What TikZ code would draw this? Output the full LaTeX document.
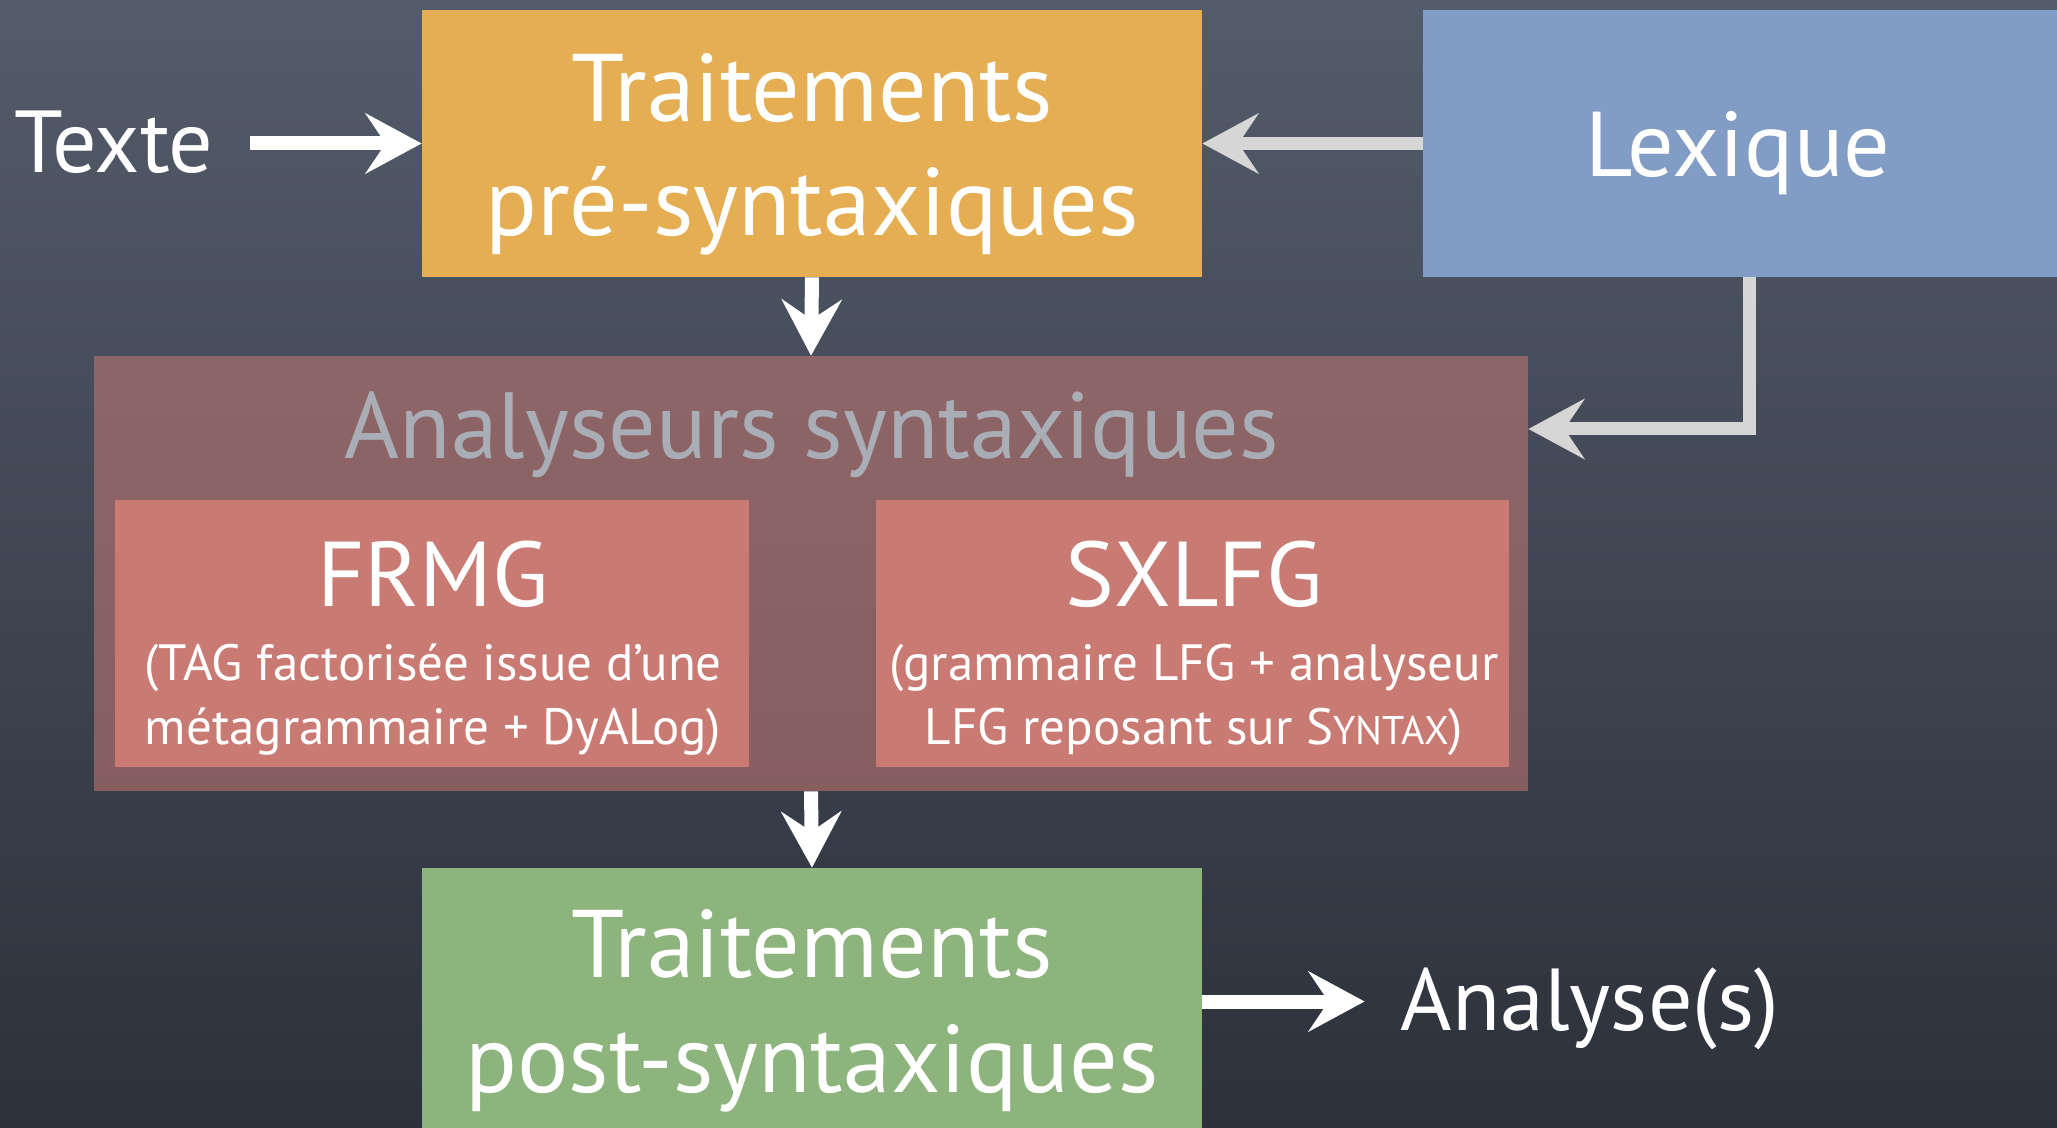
\documentclass[tikz,border=0pt]{standalone}
\usepackage{fontspec}
\setmainfont{PT Sans}
\usetikzlibrary{arrows.meta}
\definecolor{bgtop}{HTML}{545B6A}
\definecolor{bgbot}{HTML}{2C313B}
\definecolor{orangebox}{HTML}{E5AE52}
\definecolor{bluebox}{HTML}{819DC6}
\definecolor{redbox}{HTML}{C97A73}
\definecolor{greenbox}{HTML}{8DB47C}
\definecolor{titlegray}{HTML}{A9AEB6}
\definecolor{arrgray}{HTML}{D6D6D6}
\begin{document}
\begin{tikzpicture}[x=0.5pt,y=-0.5pt,
  box/.style={draw=none, inner sep=0pt},
  txt/.style={inner sep=0pt, anchor=base, text=white},
  big/.style={font=\fontsize{48}{57}\selectfont},
  small/.style={font=\fontsize{25.5}{30}\selectfont},
  warr/.style={draw=white, line width=7pt, -{Stealth[length=28pt, width=30pt, inset=10pt]}},
  garr/.style={draw=arrgray, line width=6.5pt, -{Stealth[length=28pt, width=30pt, inset=10pt]}}]
\useasboundingbox (0,0) rectangle (2057,1128);
\shade[top color=bgtop, bottom color=bgbot] (0,0) rectangle (2057,1128);

% boxes
\node[box, fill=orangebox, minimum width=390pt, minimum height=133.5pt] (pre) at (812,143.5) {};
\node[box, fill=bluebox, minimum width=317pt, minimum height=133.5pt] (lex) at (1740,143.5) {};
\node[box, fill=redbox, fill opacity=0.55, minimum width=717pt, minimum height=217.5pt] (anal) at (811,573.5) {};
\node[box, fill=redbox, minimum width=317pt, minimum height=133.5pt] (frmg) at (432,633.5) {};
\node[box, fill=redbox, minimum width=316.5pt, minimum height=133.5pt] (sxlfg) at (1192.5,633.5) {};
\node[box, fill=greenbox, minimum width=390pt, minimum height=133.5pt] (post) at (812,1001.5) {};

% texts
\node[txt, font=\fontsize{44}{52}\selectfont] (texte) at (114,173) {Texte};
\node[txt, big] (preA) at (812,122) {Traitements};
\node[txt, big] (preB) at (812,236) {pré-syntaxiques};
\node[txt, font=\fontsize{46}{55}\selectfont] (lexT) at (1738,177) {Lexique};
\node[txt, font=\fontsize{47}{56}\selectfont, text=titlegray] (analT) at (812,459) {Analyseurs syntaxiques};
\node[txt, font=\fontsize{46}{55}\selectfont] (frmgT) at (433,606) {FRMG};
\node[txt, small] (frmgA) at (433,680) {(TAG factorisée issue d’une};
\node[txt, small] (frmgB) at (433,744) {métagrammaire + DyALog)};
\node[txt, font=\fontsize{46}{55}\selectfont] (sxlfgT) at (1194,606) {SXLFG};
\node[txt, small] (sxlfgA) at (1194,680) {(grammaire LFG + analyseur};
\node[txt, small] (sxlfgB) at (1194,744) {LFG reposant sur S{\fontsize{20}{24}\selectfont YNTAX})};
\node[txt, big] (postA) at (812,977) {Traitements};
\node[txt, big] (postB) at (812,1092) {post-syntaxiques};
\node[txt, font=\fontsize{44}{53}\selectfont] (analyses) at (1590,1030) {Analyse(s)};

% connectors
\coordinate (lexturn) at (1749,429);
\draw[warr, shorten <=18pt] (texte.east |- pre.west) -- (pre.west);
\draw[garr] (lex.west) -- (pre.east);
\draw[garr] (lex.south -| lexturn) -- (lexturn) -- (anal.east |- lexturn);
\draw[warr] (pre.south) -- (anal.north);
\draw[warr] (anal.south) -- (post.north);
\draw[warr, shorten >=18pt] (post.east) -- (post.east -| analyses.west);
\end{tikzpicture}
\end{document}
